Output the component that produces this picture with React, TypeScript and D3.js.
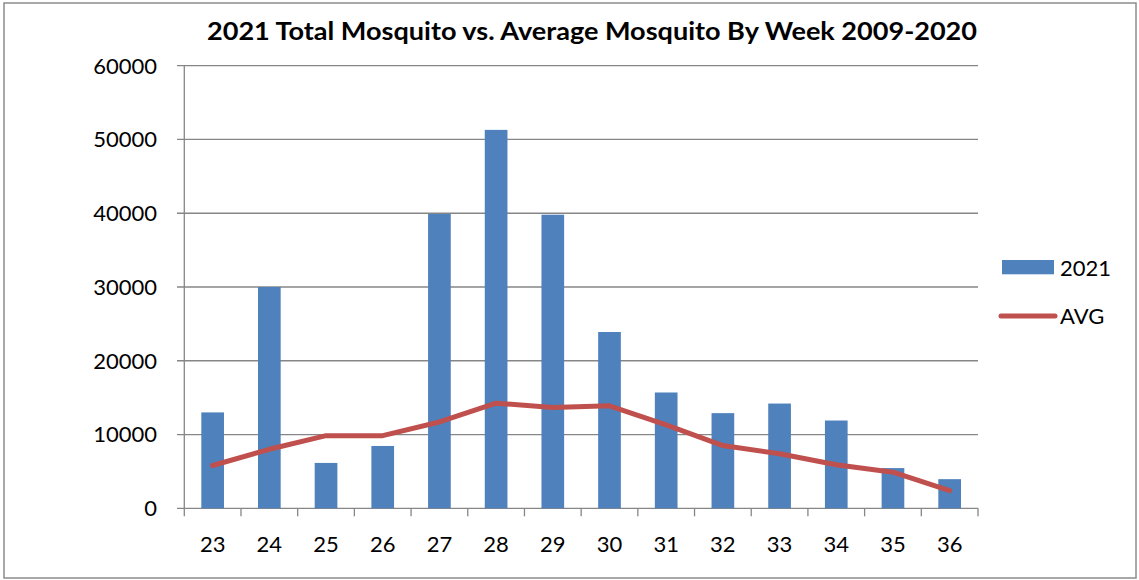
import React from "react";
import * as d3 from "d3";

const weeks = ["23", "24", "25", "26", "27", "28", "29", "30", "31", "32", "33", "34", "35", "36"];
const total2021 = [13000, 30000, 6150, 8450, 39900, 51300, 39800, 23900, 15700, 12900, 14200, 11900, 5450, 3950];
const avg = [5800, 8000, 9850, 9850, 11700, 14250, 13650, 13900, 11300, 8500, 7400, 5900, 4900, 2400];
const yTicks = [0, 10000, 20000, 30000, 40000, 50000, 60000];
const title = "2021 Total Mosquito vs. Average Mosquito By Week 2009-2020";

const W = 1139;
const H = 580;
const left = 184.3;
const right = 978;
const top = 65.7;
const bottom = 508.3;
const FONT = "Lato, 'Open Sans', sans-serif";

export default function App() {
  const x = d3.scaleBand<string>().domain(weeks).range([left, right]).paddingInner(0).paddingOuter(0);
  const y = d3.scaleLinear().domain([0, 60000]).range([bottom, top]);
  const bw = x.bandwidth() / 2.5;
  const line = d3
    .line<number>()
    .x((_, i) => (x(weeks[i]) as number) + x.bandwidth() / 2)
    .y((d) => y(d));
  const grid = "#868686";
  return (
    <svg
      width={W}
      height={H}
      style={{ position: "absolute", left: 0, top: 0, background: "#fff" }}
      fontFamily={FONT}
    >
      <rect x={4} y={3} width={1132} height={575} fill="#fff" stroke="#8c8c8c" strokeWidth={1.5} />
      <text
        x={592}
        y={40}
        textAnchor="middle"
        fontSize={25.5}
        fontWeight="bold"
        fill="#000"
        textLength={770}
        lengthAdjust="spacingAndGlyphs"
      >
        {title}
      </text>
      {yTicks.map((t) => (
        <g key={t}>
          <line x1={177} x2={right} y1={y(t)} y2={y(t)} stroke={grid} strokeWidth={1.3} />
          <text x={157} y={y(t)} dy="0.36em" textAnchor="end" fontSize={22} fill="#000">
            {t}
          </text>
        </g>
      ))}
      <line x1={left} x2={left} y1={top} y2={bottom + 8} stroke={grid} strokeWidth={1.3} />
      {weeks.map((w) => (
        <line
          key={"t" + w}
          x1={(x(w) as number) + x.bandwidth()}
          x2={(x(w) as number) + x.bandwidth()}
          y1={bottom}
          y2={bottom + 8}
          stroke={grid}
          strokeWidth={1.3}
        />
      ))}
      {weeks.map((w, i) => (
        <rect
          key={"b" + w}
          x={(x(w) as number) + (x.bandwidth() - bw) / 2}
          y={y(total2021[i])}
          width={bw}
          height={bottom - y(total2021[i])}
          fill="#4F81BD"
        />
      ))}
      <path
        d={line(avg) || ""}
        fill="none"
        stroke="#C0504D"
        strokeWidth={5}
        strokeLinejoin="round"
        strokeLinecap="round"
      />
      {weeks.map((w) => (
        <text
          key={"l" + w}
          x={(x(w) as number) + x.bandwidth() / 2}
          y={552}
          textAnchor="middle"
          fontSize={22}
          fill="#000"
        >
          {w}
        </text>
      ))}
      <rect x={1002} y={260} width={52} height={14.3} fill="#4F81BD" />
      <text x={1060} y={275.5} fontSize={22} fill="#000">2021</text>
      <line x1={1001} x2={1055} y1={316} y2={316} stroke="#C0504D" strokeWidth={5} strokeLinecap="round" />
      <text x={1060} y={324} fontSize={22} fill="#000">AVG</text>
    </svg>
  );
}
